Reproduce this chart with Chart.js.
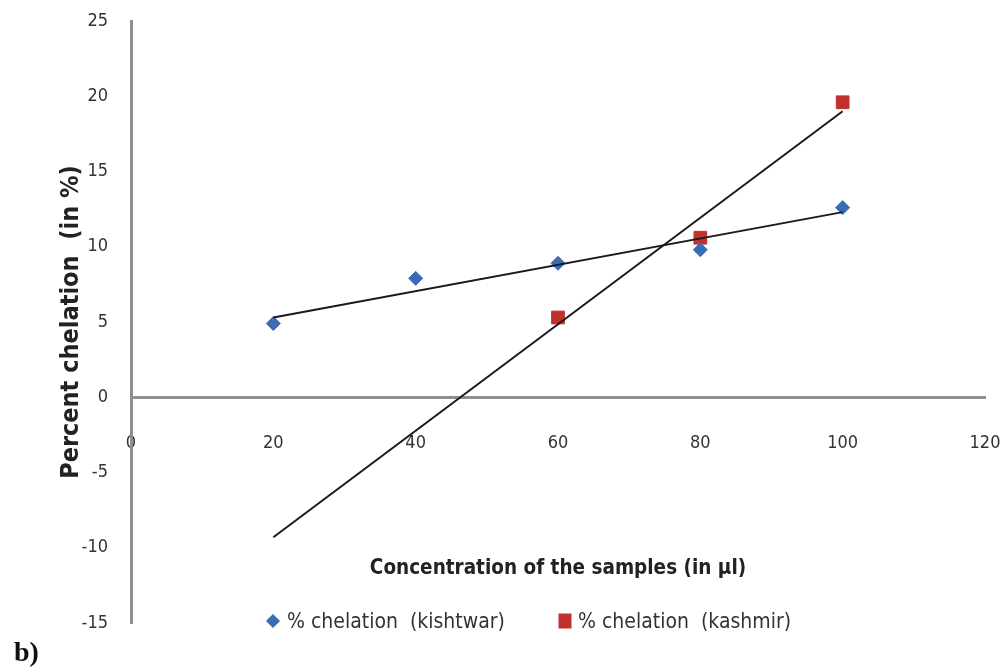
<!DOCTYPE html>
<html>
<head>
<meta charset="utf-8">
<script src="https://cdn.jsdelivr.net/npm/chart.js@4"></script>
<style>
  body { margin: 0; background: #fff; }
  #wrap { position: relative; width: 1004px; height: 672px; }
  #wrap canvas { position: absolute; left: 0; top: 0; }
  .txt { position: absolute; font-family: 'DejaVu Sans Condensed', 'Liberation Sans Narrow', sans-serif; color: #222; white-space: pre; }
  #xTitle { left: 558px; top: 567px; transform: translate(-50%, -50%); font-weight: bold; font-size: 20.5px; }
  .leg { top: 621px; transform: translateY(-50%); font-size: 21px; color: #333; }
  .mk { position: absolute; top: 621px; }
  #mkBlue { left: 273px; width: 10px; height: 10px; background: #3a6cb4; transform: translate(-50%, -50%) rotate(45deg); }
  #mkRed { left: 565px; width: 13px; height: 15px; background: #c1312c; transform: translate(-50%, -50%); }
  #label { left: 14px; top: 652px; transform: translateY(-50%); font-family: 'Liberation Serif', 'DejaVu Serif', serif; font-weight: bold; font-size: 28px; color: #111; }
</style>
</head>
<body>
<div id="wrap">
  <canvas id="myChart" width="1004" height="672"></canvas>
  <div class="txt" id="xTitle">Concentration of the samples (in µl)</div>
  <span class="mk" id="mkBlue"></span>
  <div class="txt leg" style="left:287px">% chelation  (kishtwar)</div>
  <span class="mk" id="mkRed"></span>
  <div class="txt leg" style="left:578px">% chelation  (kashmir)</div>
  <div class="txt" id="label">b)</div>
</div>
<script>
// concentrations (µl) and % chelation
const kishtwarX = [20, 40, 60, 80, 100];
const kishtwar = [4.9, 7.9, 8.9, 9.8, 12.6];
const kashmirX = [60, 80, 100];
const kashmir = [5.3, 10.6, 19.6];

// linear trendlines, end points
const trendX = [20, 100];
const kishtwarTrend = [5.3, 12.3];
const kashmirTrend = [-9.3, 19.0];

const xTicks = [0, 20, 40, 60, 80, 100, 120];
const yTicks = [-15, -10, -5, 0, 5, 10, 15, 20, 25];

const fontFamily = "'DejaVu Sans Condensed', 'Liberation Sans Narrow', sans-serif";
const tickFont = { family: fontFamily, size: 18 };

function pts(xs, ys) {
    return xs.map((x, i) => ({ x: x, y: ys[i] }));
}

var ctx = document.getElementById('myChart').getContext('2d');
var chart = new Chart(ctx, {
    type: 'scatter',
    data: {
        datasets: [
            {
                label: 'trend kishtwar',
                type: 'line',
                data: pts(trendX, kishtwarTrend),
                borderColor: '#1a1a1a',
                borderWidth: 2,
                pointRadius: 0,
                fill: false
            },
            {
                label: 'trend kashmir',
                type: 'line',
                data: pts(trendX, kashmirTrend),
                borderColor: '#1a1a1a',
                borderWidth: 2,
                pointRadius: 0,
                fill: false
            },
            {
                label: '% chelation  (kishtwar)',
                data: pts(kishtwarX, kishtwar),
                pointStyle: 'rectRot',
                pointRadius: 7,
                backgroundColor: '#3a6cb4',
                borderColor: '#3a6cb4'
            },
            {
                label: '% chelation  (kashmir)',
                data: pts(kashmirX, kashmir),
                pointStyle: 'rect',
                pointRadius: 9,
                backgroundColor: '#c1312c',
                borderColor: '#c1312c'
            }
        ]
    },
    options: {
        responsive: false,
        animation: false,
        layout: { padding: { left: 0, right: 19, top: 21, bottom: 49 } },
        plugins: {
            legend: { display: false },
            tooltip: { enabled: false }
        },
        scales: {
            x: {
                type: 'linear',
                min: 0,
                max: 120,
                position: { y: 0 },
                afterBuildTicks: s => { s.ticks = xTicks.map(v => ({ value: v })); },
                // tick marks hidden with the grid; tickLength only spaces the labels
                grid: { display: false, drawTicks: true, tickLength: 35 },
                border: { display: true, color: '#8f8f8f', width: 3 },
                ticks: { color: '#333', font: tickFont, padding: 0, maxRotation: 0 }
            },
            y: {
                type: 'linear',
                min: -15,
                max: 25,
                position: 'left',
                afterBuildTicks: s => { s.ticks = yTicks.map(v => ({ value: v })); },
                afterFit: s => { s.width = 131; },
                grid: { display: false, drawTicks: true, tickLength: 23 },
                border: { display: true, color: '#8f8f8f', width: 3 },
                ticks: { color: '#333', font: tickFont, padding: 0 },
                title: {
                    display: true,
                    text: 'Percent chelation  (in %)',
                    color: '#222',
                    font: { family: fontFamily, size: 25, weight: 'bold' },
                    padding: { top: 56, bottom: 0 }
                }
            }
        }
    }
});
</script>
</body>
</html>
